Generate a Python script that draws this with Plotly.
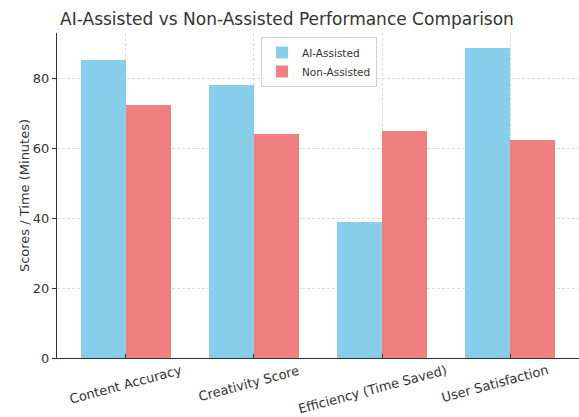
import plotly.graph_objects as go

categories = ["Content Accuracy", "Creativity Score", "Efficiency (Time Saved)", "User Satisfaction"]
ai_assisted = [85.3, 78.1, 39.1, 88.7]
non_assisted = [72.4, 64.1, 64.9, 62.4]
y_ticks = [0, 20, 40, 60, 80]

W, H = 579, 417
L, R, T, B = 57, 0, 33, 59
bar_w = 0.35
xs = list(range(len(categories)))

fig = go.Figure()
fig.add_trace(go.Bar(
    x=[x - bar_w / 2 for x in xs], y=ai_assisted, width=bar_w,
    name="AI-Assisted", marker=dict(color="#87CEEB", line=dict(width=0)),
))
fig.add_trace(go.Bar(
    x=[x + bar_w / 2 for x in xs], y=non_assisted, width=bar_w,
    name="Non-Assisted", marker=dict(color="#F08080", line=dict(width=0)),
))

# category labels, rotated and centred on their category like the reference
for i, lab in enumerate(categories):
    fig.add_annotation(
        x=i, y=0, xref="x", yref="paper", text=lab, showarrow=False,
        textangle=-15, xanchor="center", yanchor="top", yshift=-2, xshift=-5 * i,
        font=dict(family="DejaVu Sans", size=13, color="#333333"),
    )

fig.update_layout(
    width=W, height=H,
    margin=dict(l=L, r=R, t=T, b=B, autoexpand=False),
    paper_bgcolor="white", plot_bgcolor="white",
    font=dict(family="DejaVu Sans", size=13, color="#333333"),
    title=dict(text="AI-Assisted vs Non-Assisted Performance Comparison",
               x=287 / W, xanchor="center", xref="container",
               y=1 - 19 / H, yanchor="middle", yref="container",
               font=dict(size=17, color="#333333")),
    barmode="overlay",
    bargap=0,
    showlegend=True,
    legend=dict(x=(261 - L) / (W - L - R), y=(H - B - 37) / (H - B - T),
                xanchor="left", yanchor="top",
                bgcolor="rgba(255,255,255,0.8)", bordercolor="#d0d0d0", borderwidth=1,
                font=dict(size=10.5, color="#333333"), tracegroupgap=0),
    xaxis=dict(
        range=[-0.535, 3.535], tickmode="array", tickvals=xs, ticktext=["" for _ in xs],
        showgrid=True, gridcolor="#dcdcdc", griddash="3px,2px", gridwidth=1,
        showline=True, linecolor="#333333", linewidth=1.2,
        ticks="inside", ticklen=4, tickcolor="#333333", zeroline=False,
        automargin=False,
    ),
    yaxis=dict(
        range=[0, 93.1], tickmode="array", tickvals=y_ticks,
        showgrid=True, gridcolor="#dcdcdc", griddash="3px,2px", gridwidth=1,
        showline=True, linecolor="#333333", linewidth=1.2,
        ticks="outside", ticklen=4, tickcolor="#333333", zeroline=False,
        title=dict(text="Scores / Time (Minutes)", font=dict(size=13), standoff=0),
        tickfont=dict(size=13), automargin=False,
    ),
)

fig.write_html("out.html", config={"displayModeBar": False},
               post_script="document.body.style.margin='0';document.body.style.padding='0';")
